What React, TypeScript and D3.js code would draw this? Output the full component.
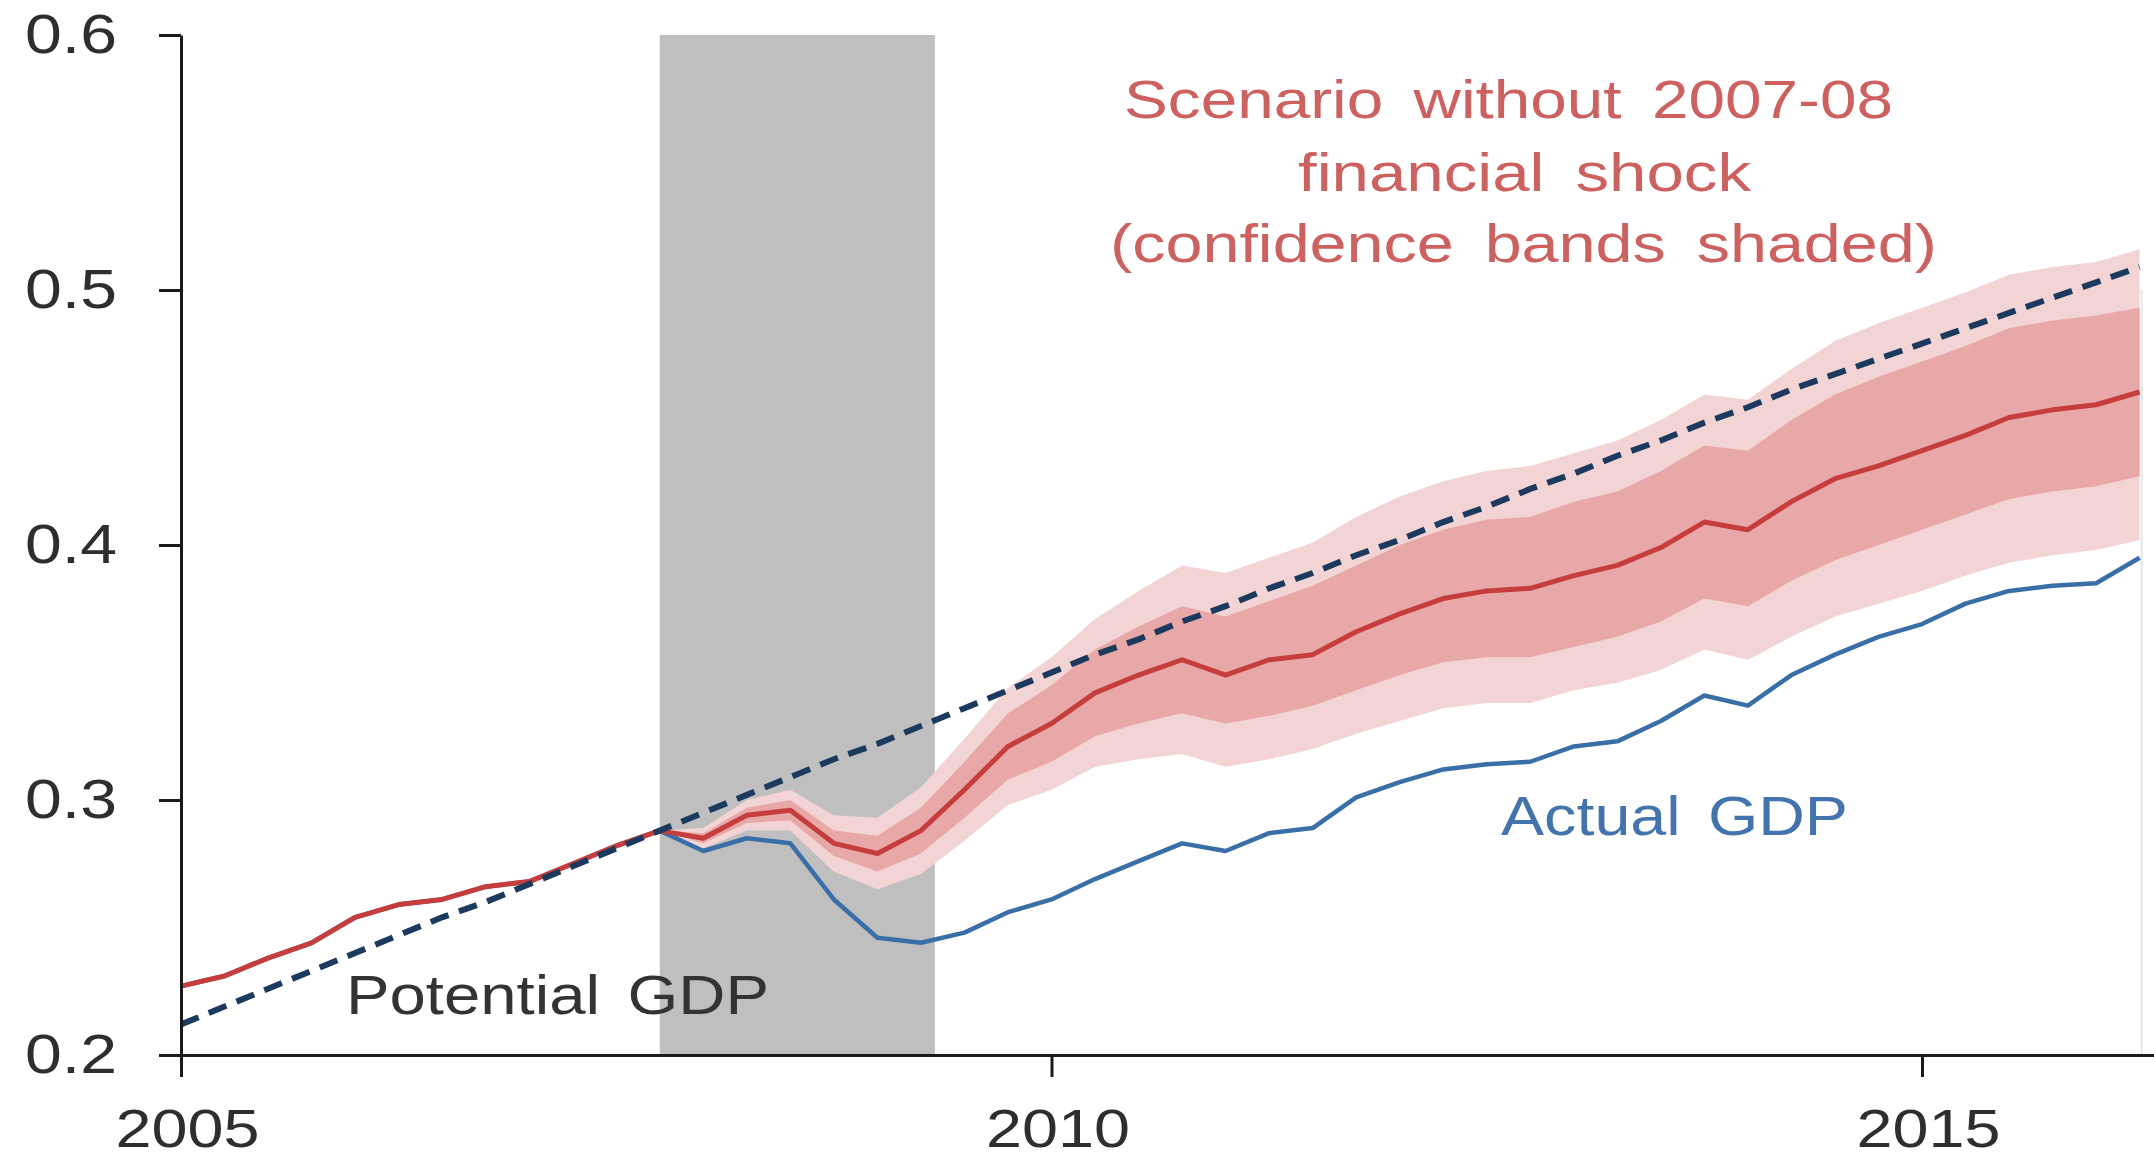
import React, {useEffect, useRef} from 'react';
import * as d3 from 'd3';

// quarterly dates (decimal years)
const quarters = [
  2005.0, 2005.25, 2005.5, 2005.75, 2006.0, 2006.25, 2006.5, 2006.75,
  2007.0, 2007.25, 2007.5, 2007.75, 2008.0, 2008.25, 2008.5, 2008.75,
  2009.0, 2009.25, 2009.5, 2009.75, 2010.0, 2010.25, 2010.5, 2010.75,
  2011.0, 2011.25, 2011.5, 2011.75, 2012.0, 2012.25, 2012.5, 2012.75,
  2013.0, 2013.25, 2013.5, 2013.75, 2014.0, 2014.25, 2014.5, 2014.75,
  2015.0, 2015.25, 2015.5, 2015.75, 2016.0, 2016.25,
];

const actualGdp = [
  0.227, 0.231, 0.238, 0.244, 0.254, 0.259, 0.261, 0.266, 0.268, 0.275, 0.282, 0.288,
  0.28, 0.285, 0.283, 0.261, 0.246, 0.244, 0.248, 0.256, 0.261,
  0.269, 0.276, 0.283, 0.28, 0.287, 0.289, 0.301, 0.307,
  0.312, 0.314, 0.315, 0.321, 0.323, 0.331, 0.341, 0.337,
  0.349, 0.357, 0.364, 0.369, 0.377, 0.382, 0.384, 0.385, 0.395,
];

const scenarioGdp = [
  0.227, 0.231, 0.238, 0.244, 0.254, 0.259, 0.261, 0.266, 0.268, 0.275, 0.282, 0.288,
  0.285, 0.294, 0.296, 0.283, 0.279, 0.288, 0.304, 0.321, 0.33,
  0.342, 0.349, 0.355, 0.349, 0.355, 0.357, 0.366, 0.373,
  0.379, 0.382, 0.383, 0.388, 0.392, 0.399, 0.409, 0.406,
  0.417, 0.426, 0.431, 0.437, 0.443, 0.45, 0.453, 0.455, 0.46,
];

const potentialGdp = [
  0.212, 0.219, 0.226, 0.233, 0.24, 0.247, 0.254, 0.26, 0.267, 0.274, 0.281, 0.288,
  0.295, 0.302, 0.309, 0.316, 0.322, 0.329, 0.336, 0.343, 0.35,
  0.357, 0.363, 0.37, 0.376, 0.383, 0.389, 0.396, 0.402,
  0.409, 0.415, 0.422, 0.428, 0.435, 0.441, 0.448, 0.454,
  0.461, 0.467, 0.473, 0.479, 0.485, 0.491, 0.497, 0.503, 0.509,
];

// confidence bands start at 2007Q4 (index 11 of quarters)
const bandStart = 11;
const outerUpper = [
  0.288, 0.289, 0.3, 0.304, 0.294, 0.293, 0.305, 0.324, 0.344, 0.356, 0.371, 0.382,
  0.392, 0.389, 0.395, 0.401, 0.411, 0.419, 0.425, 0.429, 0.431, 0.436, 0.441,
  0.449, 0.459, 0.457, 0.469, 0.48, 0.487, 0.493, 0.499, 0.506, 0.509, 0.511, 0.516,
];
const outerLower = [
  0.288, 0.281, 0.288, 0.288, 0.272, 0.265, 0.271, 0.284, 0.298, 0.304, 0.313, 0.316,
  0.318, 0.313, 0.316, 0.32, 0.326, 0.331, 0.336, 0.338, 0.338, 0.343, 0.346,
  0.351, 0.359, 0.355, 0.364, 0.372, 0.377, 0.382, 0.388, 0.393, 0.396, 0.398, 0.402,
];
const innerUpper = [
  0.288, 0.287, 0.297, 0.3, 0.288, 0.286, 0.297, 0.315, 0.334, 0.345, 0.359, 0.368,
  0.376, 0.372, 0.378, 0.384, 0.392, 0.4, 0.406, 0.41, 0.411, 0.417, 0.421,
  0.429, 0.439, 0.437, 0.449, 0.459, 0.466, 0.472, 0.478, 0.485, 0.488, 0.49, 0.493,
];
const innerLower = [
  0.288, 0.283, 0.291, 0.292, 0.278, 0.272, 0.279, 0.293, 0.308, 0.315, 0.325, 0.33,
  0.334, 0.33, 0.333, 0.337, 0.343, 0.349, 0.354, 0.356, 0.356, 0.36, 0.364,
  0.37, 0.379, 0.376, 0.386, 0.394, 0.4, 0.406, 0.412, 0.418, 0.421, 0.423, 0.427,
];

const recession = [2007.75, 2009.33];
const yTicks = [0.2, 0.3, 0.4, 0.5, 0.6];
const xTicks = [2005, 2010, 2015];
const scenarioLabel = ['Scenario without 2007-08', 'financial shock', '(confidence bands shaded)'];

const W = 2154;
const H = 1160;
const font = '"Liberation Sans", Arial, Helvetica, sans-serif';

const draw = (node) => {
  const svg = d3.select(node);
  svg.selectAll('*').remove();

  const x = d3.scaleLinear().domain([2005, 2015]).range([181, 1922]);
  const xAxisScale = x.copy().domain([2005, x.invert(W)]).range([181, W]);
  const y = d3.scaleLinear().domain([0.2, 0.6]).range([1055, 35]);

  svg.append('rect').attr('width', W).attr('height', H).attr('fill', '#fff');

  // recession shading
  svg
    .append('rect')
    .attr('x', x(recession[0]))
    .attr('width', x(recession[1]) - x(recession[0]))
    .attr('y', y(0.6))
    .attr('height', y(0.2) - y(0.6))
    .attr('fill', '#bfbfbf');

  // faint right border of the plot
  svg
    .append('line')
    .attr('x1', x(quarters[quarters.length - 1]) + 2)
    .attr('x2', x(quarters[quarters.length - 1]) + 2)
    .attr('y1', y(0.5))
    .attr('y2', y(0.2))
    .attr('stroke', '#e6e6e6')
    .attr('stroke-width', 2);

  const bandQ = quarters.slice(bandStart);
  const band = (hi, lo) =>
    d3
      .area()
      .x((d, i) => x(bandQ[i]))
      .y0((d, i) => y(lo[i]))
      .y1((d, i) => y(hi[i]))(hi);

  svg.append('path').attr('d', band(outerUpper, outerLower)).attr('fill', '#f3d4d4');
  svg.append('path').attr('d', band(innerUpper, innerLower)).attr('fill', '#e8a8a7');

  const line = d3
    .line()
    .x((d, i) => x(quarters[i]))
    .y(d => y(d));

  svg
    .append('path')
    .attr('d', line(actualGdp))
    .attr('fill', 'none')
    .attr('stroke', '#3a6ea6')
    .attr('stroke-width', 4.5)
    .attr('stroke-linejoin', 'round');

  svg
    .append('path')
    .attr('d', line(scenarioGdp))
    .attr('fill', 'none')
    .attr('stroke', '#c63d3d')
    .attr('stroke-width', 5)
    .attr('stroke-linejoin', 'round');

  svg
    .append('path')
    .attr('d', line(potentialGdp))
    .attr('fill', 'none')
    .attr('stroke', '#1c3a5e')
    .attr('stroke-width', 6)
    .attr('stroke-dasharray', '19 11');

  // annotations
  const scen = svg
    .append('g')
    .attr('font-family', font)
    .attr('font-size', 54)
    .attr('fill', '#cc6160')
    .style('word-spacing', '10px');
  const scenPos = [
    {x: 1124, y: 118, len: 769},
    {x: 1298, y: 191, len: 453},
    {x: 1110, y: 262, len: 827},
  ];
  scen
    .selectAll('text')
    .data(scenarioLabel)
    .enter()
    .append('text')
    .attr('x', (d, i) => scenPos[i].x)
    .attr('y', (d, i) => scenPos[i].y)
    .attr('textLength', (d, i) => scenPos[i].len)
    .attr('lengthAdjust', 'spacingAndGlyphs')
    .text(d => d);

  svg
    .append('text')
    .attr('x', 346)
    .attr('y', 1014)
    .attr('font-family', font)
    .attr('font-size', 56)
    .attr('fill', '#333')
    .attr('textLength', 423)
    .attr('lengthAdjust', 'spacingAndGlyphs')
    .style('word-spacing', '8px')
    .text('Potential GDP');

  svg
    .append('text')
    .attr('x', 1501)
    .attr('y', 835)
    .attr('font-family', font)
    .attr('font-size', 56)
    .attr('fill', '#4474ad')
    .attr('textLength', 347)
    .attr('lengthAdjust', 'spacingAndGlyphs')
    .style('word-spacing', '8px')
    .text('Actual GDP');

  // axes
  const gx = svg
    .append('g')
    .attr('transform', `translate(0, ${y(0.2)})`)
    .call(
      d3
        .axisBottom(xAxisScale)
        .tickValues(xTicks)
        .tickFormat(d3.format('d'))
        .tickSize(22)
        .tickSizeOuter(0)
        .tickPadding(32),
    );

  const gy = svg
    .append('g')
    .attr('transform', `translate(${x(2005)}, 0)`)
    .call(
      d3
        .axisLeft(y)
        .tickValues(yTicks)
        .tickFormat(d3.format('.1f'))
        .tickSize(22)
        .tickSizeOuter(0)
        .tickPadding(42),
    );

  [gx, gy].forEach(g => {
    g.select('.domain').attr('stroke', '#1a1a1a').attr('stroke-width', 3);
    g.selectAll('.tick line').attr('stroke', '#1a1a1a').attr('stroke-width', 3);
    g.selectAll('.tick text')
      .attr('font-family', font)
      .attr('font-size', 56)
      .attr('fill', '#2e2e2e')
      .attr('lengthAdjust', 'spacingAndGlyphs');
  });
  gx.selectAll('.tick text').attr('dx', 6).attr('font-size', 54).attr('textLength', 144);
  gy.selectAll('.tick text').attr('textLength', 92);
};

export default function App() {
  const ref = useRef(null);
  useEffect(() => {
    draw(ref.current);
  }, []);
  return (
    <svg
      ref={ref}
      width={W}
      height={H}
      style={{position: 'absolute', left: 0, top: 0, display: 'block'}}
    />
  );
}
